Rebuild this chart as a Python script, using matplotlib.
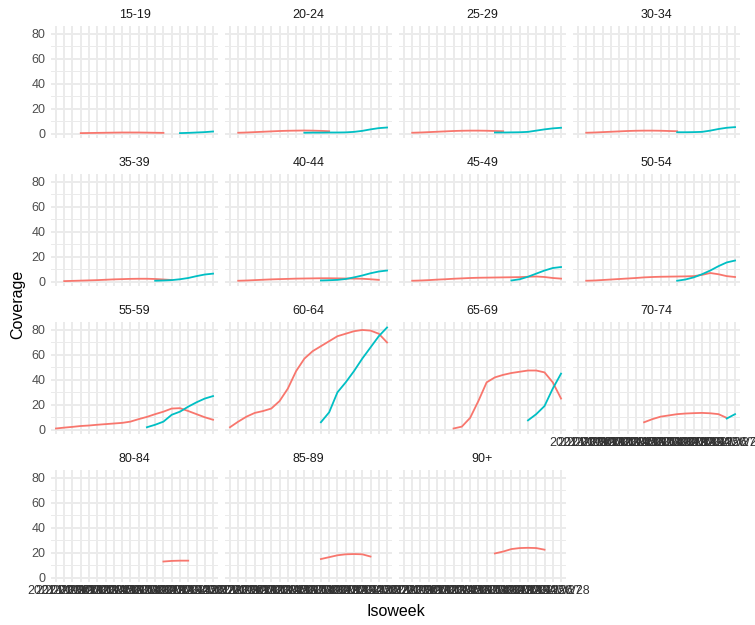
import numpy as np
import matplotlib.pyplot as plt

plt.rcParams["font.family"] = ["Liberation Sans", "DejaVu Sans"]

n = np.nan

weeks = ["2021-W09", "2021-W10", "2021-W11", "2021-W12", "2021-W13",
         "2021-W14", "2021-W15", "2021-W16", "2021-W17", "2021-W18",
         "2021-W19", "2021-W20", "2021-W21", "2021-W22", "2021-W23",
         "2021-W24", "2021-W25", "2021-W26", "2021-W27", "2021-W28"]

age_groups = ["15-19", "20-24", "25-29", "30-34", "35-39", "40-44", "45-49",
              "50-54", "55-59", "60-64", "65-69", "70-74", "80-84", "85-89", "90+"]

# weekly coverage per age group, red series then teal series
red_15_19 = [n, n, n, 0.5, 0.6, 0.7, 0.8, 0.9, 1.0, 1.0, 1.0, 0.9, 0.8, 0.7, n, n, n, n, n, n]
teal_15_19 = [n, n, n, n, n, n, n, n, n, n, n, n, n, n, n, 0.5, 0.7, 1.0, 1.3, 1.8]
red_20_24 = [n, 0.8, 1.0, 1.3, 1.6, 1.9, 2.2, 2.4, 2.5, 2.6, 2.5, 2.3, 2.0, n, n, n, n, n, n, n]
teal_20_24 = [n, n, n, n, n, n, n, n, n, 0.8, 0.9, 0.9, 1.0, 1.0, 1.1, 1.5, 2.3, 3.5, 4.5, 5.0]
red_25_29 = [n, 0.8, 1.0, 1.3, 1.6, 1.9, 2.2, 2.4, 2.5, 2.5, 2.4, 2.2, 2.0, n, n, n, n, n, n, n]
teal_25_29 = [n, n, n, n, n, n, n, n, n, n, n, 1.0, 1.0, 1.1, 1.2, 1.5, 2.5, 3.5, 4.3, 4.8]
red_30_34 = [n, 0.8, 1.0, 1.3, 1.6, 1.9, 2.2, 2.4, 2.5, 2.5, 2.4, 2.2, 2.0, n, n, n, n, n, n, n]
teal_30_34 = [n, n, n, n, n, n, n, n, n, n, n, n, 1.2, 1.2, 1.3, 1.5, 2.5, 3.8, 4.8, 5.3]
red_35_39 = [n, 0.5, 0.7, 0.9, 1.1, 1.3, 1.6, 1.9, 2.1, 2.3, 2.4, 2.4, 2.2, 1.8, 1.4, n, n, n, n, n]
teal_35_39 = [n, n, n, n, n, n, n, n, n, n, n, n, 0.8, 1.0, 1.3, 2.0, 3.0, 4.5, 5.8, 6.5]
red_40_44 = [n, 0.8, 1.0, 1.3, 1.6, 1.9, 2.1, 2.3, 2.5, 2.6, 2.7, 2.8, 2.8, 2.7, 2.6, 2.5, 2.4, 2.0, 1.5, n]
teal_40_44 = [n, n, n, n, n, n, n, n, n, n, n, 1.0, 1.2, 1.5, 2.2, 3.5, 5.0, 6.8, 8.2, 9.0]
red_45_49 = [n, 0.8, 1.0, 1.3, 1.7, 2.0, 2.4, 2.7, 3.0, 3.2, 3.3, 3.4, 3.5, 3.6, 3.7, 4.0, 4.2, 3.8, 3.0, 2.5]
teal_45_49 = [n, n, n, n, n, n, n, n, n, n, n, n, n, 1.0, 2.0, 4.0, 6.5, 9.0, 11.0, 11.8]
red_50_54 = [n, 0.8, 1.0, 1.4, 1.8, 2.2, 2.6, 3.0, 3.5, 3.8, 4.0, 4.1, 4.2, 4.3, 4.5, 5.5, 7.0, 6.0, 4.5, 3.8]
teal_50_54 = [n, n, n, n, n, n, n, n, n, n, n, n, 0.8, 1.8, 3.5, 6.0, 9.0, 12.5, 15.5, 17.0]
red_55_59 = [1.0, 1.7, 2.3, 3.0, 3.4, 4.0, 4.5, 5.0, 5.5, 6.5, 8.5, 10.3, 12.5, 14.5, 17.0, 17.3, 15.0, 12.5, 10.0, 8.0]
teal_55_59 = [n, n, n, n, n, n, n, n, n, n, n, 2.0, 4.0, 6.5, 12.0, 14.5, 18.5, 22.0, 25.0, 27.0]
red_60_64 = [2.0, 6.5, 10.5, 13.5, 15.0, 17.0, 23.0, 33.0, 47.0, 57.0, 63.0, 67.0, 71.0, 75.0, 77.0, 79.0, 80.0, 79.5, 77.0, 70.0]
teal_60_64 = [n, n, n, n, n, n, n, n, n, n, n, 6.0, 14.0, 30.0, 38.0, 47.0, 57.0, 66.0, 75.0, 82.0]
red_65_69 = [n, n, n, n, n, n, 1.0, 2.5, 9.5, 23.0, 38.0, 42.0, 44.0, 45.5, 46.5, 47.5, 47.5, 46.0, 38.0, 25.0]
teal_65_69 = [n, n, n, n, n, n, n, n, n, n, n, n, n, n, n, 7.5, 12.5, 19.0, 33.0, 45.0]
red_70_74 = [n, n, n, n, n, n, n, n, 6.0, 8.5, 10.5, 11.5, 12.5, 13.0, 13.3, 13.5, 13.2, 12.5, 9.5, n]
teal_70_74 = [n, n, n, n, n, n, n, n, n, n, n, n, n, n, n, n, n, n, 9.0, 12.5]
red_80_84 = [n, n, n, n, n, n, n, n, n, n, n, n, n, 13.0, 13.5, 13.7, 13.7, n, n, n]
teal_80_84 = [n] * 20
red_85_89 = [n, n, n, n, n, n, n, n, n, n, n, 15.0, 16.5, 18.0, 18.8, 19.0, 18.8, 17.0, n, n]
teal_85_89 = [n] * 20
red_90 = [n, n, n, n, n, n, n, n, n, n, n, 19.5, 21.0, 23.0, 23.8, 24.0, 23.8, 22.5, n, n]
teal_90 = [n] * 20

red = [red_15_19, red_20_24, red_25_29, red_30_34, red_35_39, red_40_44, red_45_49,
       red_50_54, red_55_59, red_60_64, red_65_69, red_70_74, red_80_84, red_85_89, red_90]
teal = [teal_15_19, teal_20_24, teal_25_29, teal_30_34, teal_35_39, teal_40_44, teal_45_49,
        teal_50_54, teal_55_59, teal_60_64, teal_65_69, teal_70_74, teal_80_84, teal_85_89, teal_90]

# ggplot-like limits (5% expansion)
allv = np.array(red + teal, dtype=float)
lo, hi = np.nanmin(allv), np.nanmax(allv)
pad = (hi - lo) * 0.05
ylim = (lo - pad, hi + pad)

W, H = 755, 625
fig = plt.figure(figsize=(W / 100, H / 100), dpi=100)

left0, pw, gap = 51, 167, 7
top0, ph, vstep = 26.4, 111.8, 148
x = np.arange(len(weeks))
ncol = 4

for k, grp in enumerate(age_groups):
    r, c = divmod(k, ncol)
    px = left0 + c * (pw + gap)
    py = top0 + r * vstep
    ax = fig.add_axes([px / W, 1 - (py + ph) / H, pw / W, ph / H])
    ax.set_xlim(-0.6, len(weeks) - 0.4)
    ax.set_ylim(*ylim)
    ax.set_xticks(x)
    ax.set_xticklabels(weeks)
    ax.set_yticks([0, 20, 40, 60, 80])
    ax.set_yticks([10, 30, 50, 70], minor=True)
    ax.grid(which="major", color="#EBEBEB", linewidth=1.4)
    ax.grid(which="minor", axis="y", color="#EBEBEB", linewidth=0.7)
    ax.set_axisbelow(True)
    for s in ax.spines.values():
        s.set_visible(False)
    bottom = (k + ncol >= len(age_groups))
    ax.tick_params(which="both", length=0, labelsize=9, labelcolor="#4D4D4D",
                   labelbottom=bottom, labelleft=(c == 0))
    ax.tick_params(axis="x", pad=2, labelcolor="#333333")
    ax.tick_params(axis="y", pad=4)
    ax.plot(x, red[k], color="#F8766D", linewidth=1.3)
    ax.plot(x, teal[k], color="#00BFC4", linewidth=1.3)
    ax.annotate(grp, (0.5, 1), xycoords="axes fraction", xytext=(0, 8),
                textcoords="offset points", ha="center", va="center",
                fontsize=9, color="#1A1A1A")

fig.text(18 / W, 1 - 304 / H, "Coverage", rotation=90, ha="center", va="center", fontsize=11.5)
fig.text(395.5 / W, 1 - 612 / H, "Isoweek", ha="center", va="center", fontsize=11.5)

fig.savefig("out.png", dpi=100, facecolor="white")
